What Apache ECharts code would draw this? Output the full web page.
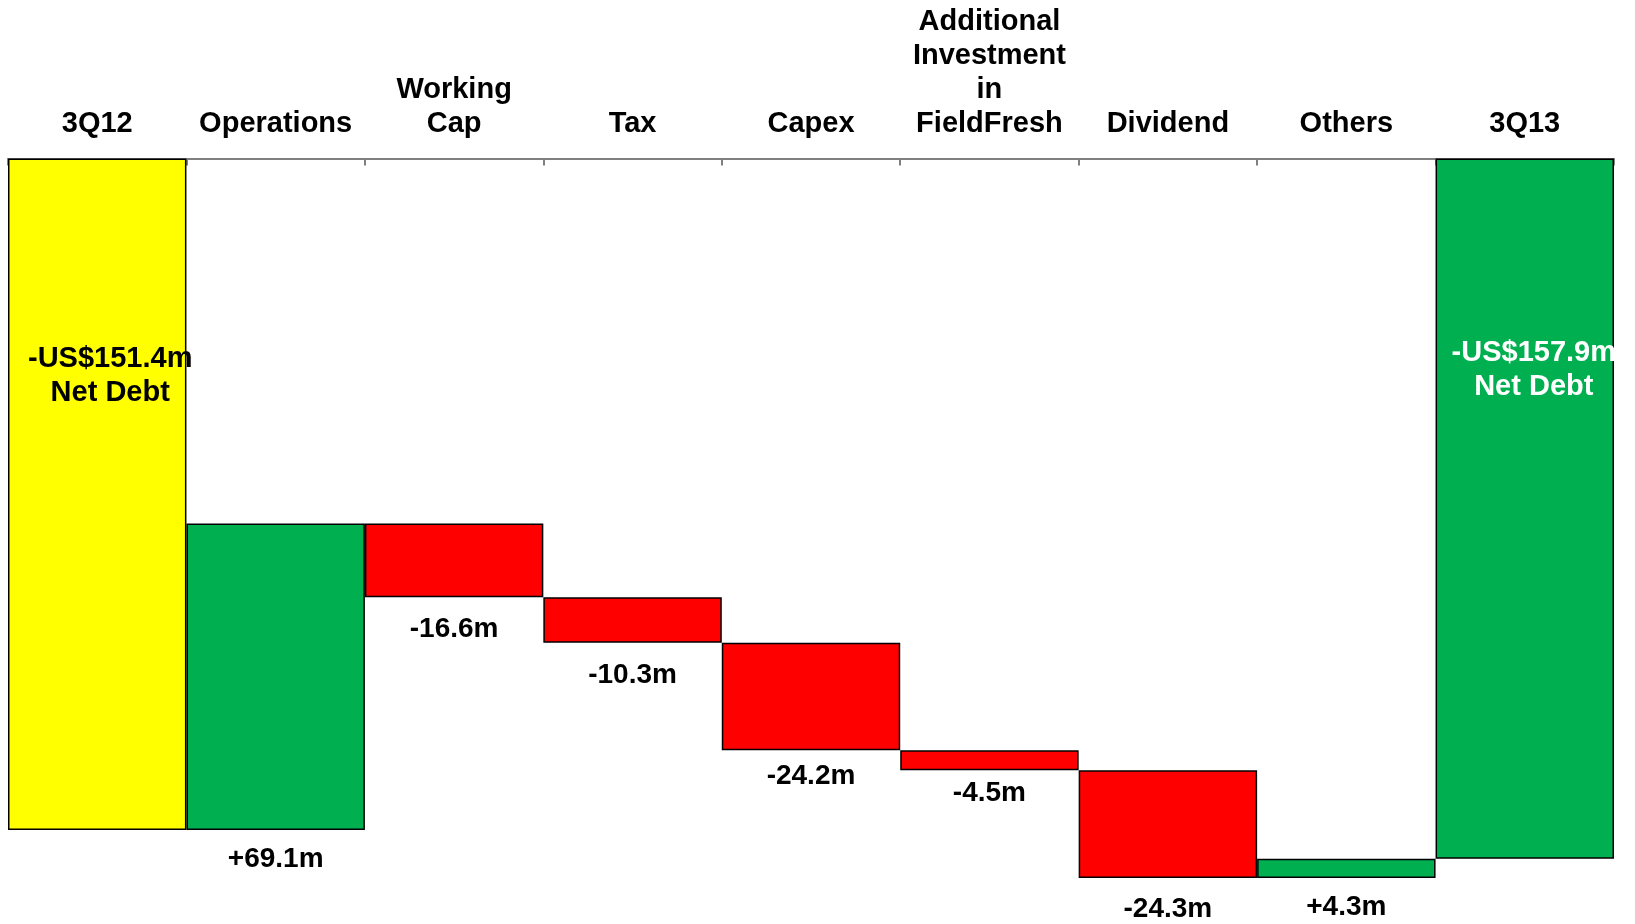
<!DOCTYPE html>
<html>
<head>
<meta charset="utf-8">
<script src="https://cdn.jsdelivr.net/npm/echarts@6/dist/echarts.min.js"></script>
<style>
  html, body { margin: 0; padding: 0; background: #fff; }
  #chart { width: 1635px; height: 924px; }
</style>
</head>
<body>
<div id="chart"></div>
<script>
// Net debt bridge, US$m (debt shown as a positive amount, axis inverted)
const categories = ['3Q12', 'Operations', 'Working\nCap', 'Tax', 'Capex',
  'Additional\nInvestment\nin\nFieldFresh', 'Dividend', 'Others', '3Q13'];
const openingNetDebt = 151.4;
const cashFlows = [69.1, -16.6, -10.3, -24.2, -4.5, -24.3, 4.3];
const closingNetDebt = 157.9;

// Gap (px) between each movement bar and its value label
const flowLabelGap = [15, 18, 18, 12, 9, 17, 15];

const YELLOW = '#FFFF00', GREEN = '#00B050', RED = '#FF0000';
const FONT = '"Liberation Sans", Arial, sans-serif';

// Build floating segments: invisible base + visible bar
const baseData = [0];
const barData = [{ value: openingNetDebt, itemStyle: { color: YELLOW } }];
let debt = openingNetDebt;
cashFlows.forEach(f => {
  const next = debt - f;
  baseData.push(+Math.min(debt, next).toFixed(1));
  barData.push({ value: Math.abs(f), itemStyle: { color: f >= 0 ? GREEN : RED } });
  debt = next;
});
baseData.push(0);
barData.push({ value: closingNetDebt, itemStyle: { color: GREEN } });

const fmtFlow = f => (f >= 0 ? '+' : '-') + Math.abs(f).toFixed(1) + 'm';

barData.forEach((d, i) => {
  if (i === 0 || i === barData.length - 1) {
    const isOpen = i === 0;
    d.label = {
      show: true,
      position: ['50%', isOpen ? 217 : 211],
      offset: [isOpen ? 13 : 9, 0],
      align: 'center',
      verticalAlign: 'middle',
      formatter: '-US$' + d.value.toFixed(1) + 'm\nNet Debt',
      color: isOpen ? '#000' : '#fff',
      fontSize: 29,
      lineHeight: 34,
      fontWeight: 'bold',
      fontFamily: FONT
    };
  } else {
    d.label = {
      show: true,
      position: 'bottom',
      distance: flowLabelGap[i - 1],
      formatter: fmtFlow(cashFlows[i - 1]),
      color: '#000',
      fontSize: 28,
      fontWeight: 'bold',
      fontFamily: FONT
    };
  }
});

const chart = echarts.init(document.getElementById('chart'), null, { renderer: 'canvas' });
chart.setOption({
  animation: false,
  backgroundColor: '#fff',
  grid: { left: 8, right: 21, top: 158.5, bottom: 11.5, containLabel: false },
  xAxis: {
    type: 'category',
    position: 'top',
    data: categories,
    axisLine: { lineStyle: { color: '#808080', width: 2 } },
    axisTick: { show: true, inside: true, length: 7, lineStyle: { color: '#808080', width: 2 } },
    axisLabel: {
      interval: 0,
      margin: 18,
      color: '#000',
      fontSize: 29,
      lineHeight: 34,
      fontWeight: 'bold',
      fontFamily: FONT,
      align: 'center'
    },
    splitLine: { show: false }
  },
  yAxis: {
    type: 'value',
    inverse: true,
    min: 0,
    max: 170,
    show: false,
    splitLine: { show: false }
  },
  series: [
    {
      type: 'bar',
      stack: 'bridge',
      data: baseData,
      itemStyle: { color: 'transparent' },
      barCategoryGap: '0%',
      silent: true
    },
    {
      type: 'bar',
      stack: 'bridge',
      data: barData,
      barCategoryGap: '0%',
      itemStyle: { borderColor: '#000', borderWidth: 1.5 }
    }
  ]
});
</script>
</body>
</html>
